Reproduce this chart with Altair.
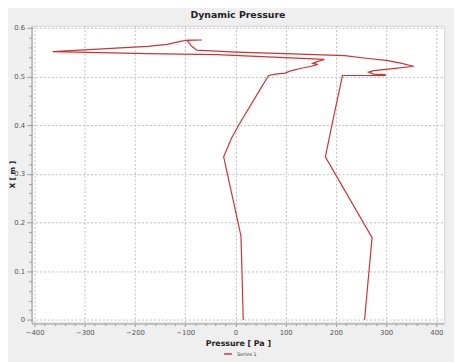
import altair as alt
import pandas as pd

# Path of the single series (pressure [Pa], x [m]) in drawing order
pressure = [15.5, 11, -23.5, -8, 8, 47, 66, 80, 99, 108, 131, 151, 164, 154, 161, 177,
            -37, -175, -364, -175, -136, -110, -93, -67, -96, -87, -77,
            1, 99, 218, 256, 300, 327, 355, 314, 275, 265, 275, 298, 298, 213,
            194, 179, 272, 257]
xpos = [0.0, 0.172, 0.335, 0.373, 0.403, 0.47, 0.502, 0.505, 0.507, 0.511, 0.517, 0.521,
        0.525, 0.527, 0.530, 0.535,
        0.545, 0.547, 0.551, 0.562, 0.566, 0.572, 0.575, 0.575, 0.574, 0.562, 0.554,
        0.550, 0.547, 0.543, 0.538, 0.533, 0.528, 0.521, 0.516, 0.512, 0.509, 0.505,
        0.504, 0.502, 0.502, 0.41, 0.335, 0.169, 0.0]
series = ["Series 1"] * len(pressure)

x_ticks = list(range(-400, 401, 20))
y_ticks = [i / 50 for i in range(0, 31)]

df = pd.DataFrame({"P": pressure, "X": xpos, "series": series,
                   "idx": list(range(len(pressure)))})

FONT = "DejaVu Sans"

x_major = "datum.value % 100 === 0"
y_major = "abs(datum.value*10 - round(datum.value*10)) < 0.001"

chart = alt.Chart(df).mark_line(strokeWidth=1.2).encode(
    x=alt.X("P:Q", title="Pressure [ Pa ]",
            scale=alt.Scale(domain=[-406, 415.6], nice=False, zero=False),
            axis=alt.Axis(values=x_ticks, labelOverlap=False,
                          labelExpr=f"{x_major} ? datum.label : ''",
                          tickSize={"condition": {"test": x_major, "value": 3}, "value": 2},
                          gridOpacity={"condition": {"test": x_major, "value": 1}, "value": 0},
                          offset=1)),
    y=alt.Y("X:Q", title="X [ m ]",
            scale=alt.Scale(domain=[-0.0054, 0.604], nice=False, zero=False),
            axis=alt.Axis(values=y_ticks, labelOverlap=False,
                          labelExpr=f"{y_major} ? (round(datum.value*10)/10) + '' : ''",
                          tickSize={"condition": {"test": y_major, "value": 5}, "value": 3},
                          gridOpacity={"condition": {"test": y_major, "value": 1}, "value": 0},
                          titleX=-19, titleBaseline="middle", titleFontSize=7.5)),
    color=alt.Color("series:N", scale=alt.Scale(range=["#cc3333"]),
                    legend=alt.Legend(title=None, orient="none", legendX=195, legendY=329,
                                      symbolType="stroke", symbolSize=64,
                                      symbolStrokeWidth=1.5, labelFontSize=5,
                                      labelFont=FONT, labelColor="#444")),
    order=alt.Order("idx:Q"),
).properties(
    width=420, height=302,
    title=alt.TitleParams("Dynamic Pressure", fontSize=9.5, fontWeight="bold",
                          font=FONT, color="#222222", offset=4),
    autosize=alt.AutoSizeParams(type="none"),
    padding={"left": 24, "top": 15, "right": 10, "bottom": 37},
    background="#efefef",
).configure_view(
    fill="white", stroke="#d4d4d4", strokeWidth=1
).configure_axis(
    labelFont=FONT, labelFontSize=7, labelColor="#555555", labelPadding=2,
    titleFont=FONT, titleFontSize=8, titleFontWeight="bold", titleColor="#222222",
    domainColor="#999999", tickColor="#999999",
    gridColor="#bdbdbd", gridDash=[2, 2], gridWidth=1,
)

chart.save("out.html", embed_options={"renderer": "svg", "actions": False})
